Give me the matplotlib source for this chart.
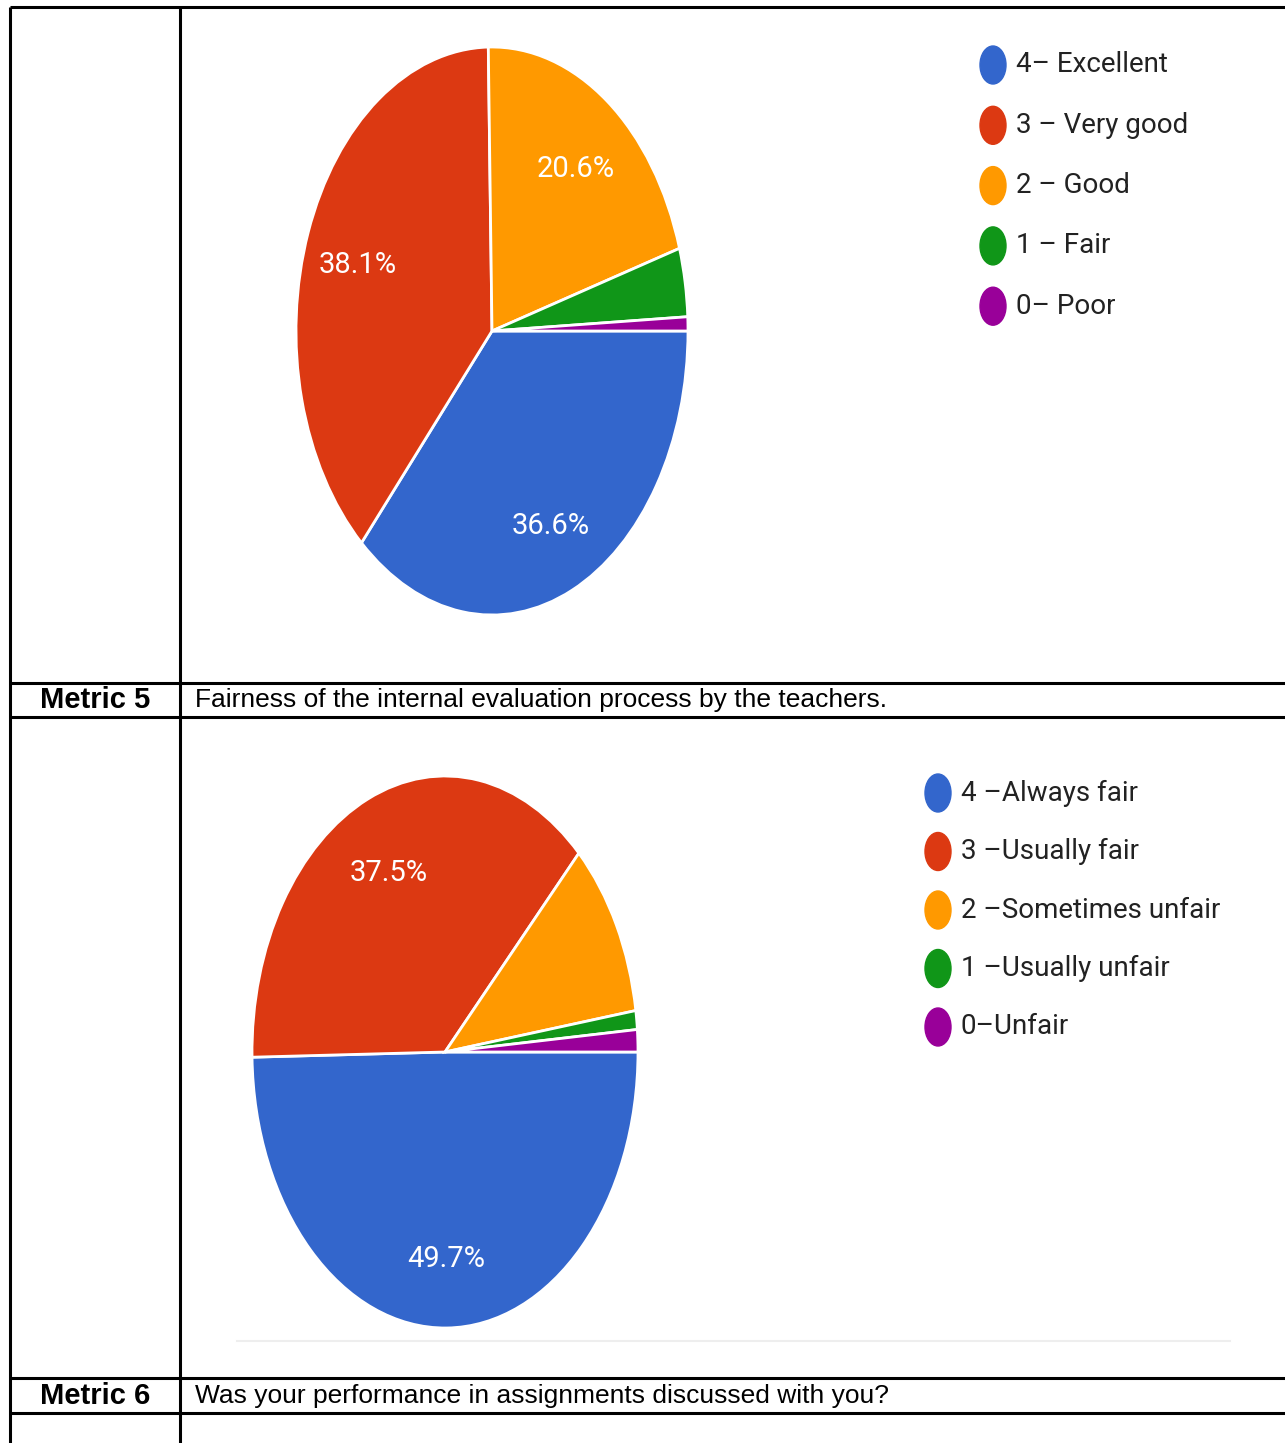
import matplotlib
matplotlib.use('Agg')
import matplotlib.pyplot as plt
from matplotlib.patches import Ellipse

W, H = 1285, 1443

colors = ['#3366CC', '#DC3912', '#FF9900', '#109618', '#990099']

# chart 1 (metric 4 answers)
labels1 = ['4\u2013 Excellent', '3 \u2013 Very good', '2 \u2013 Good', '1 \u2013 Fair', '0\u2013 Poor']
values1 = [36.6, 38.1, 20.6, 3.9, 0.8]

# chart 2 (metric 5 answers)
labels2 = ['4 \u2013Always fair', '3 \u2013Usually fair', '2 \u2013Sometimes unfair',
           '1 \u2013Usually unfair', '0\u2013Unfair']
values2 = [49.7, 37.5, 10.4, 1.1, 1.3]

metric_rows = [('Metric 5', 'Fairness of the internal evaluation process by the teachers.'),
               ('Metric 6', 'Was your performance in assignments discussed with you?')]

narrow = ['Roboto', 'DejaVu Sans']
table_font = ['Liberation Sans', 'DejaVu Sans']

fig = plt.figure(figsize=(W / 100, H / 100), dpi=100)
base = fig.add_axes([0, 0, 1, 1])
base.set_xlim(0, W)
base.set_ylim(H, 0)
base.axis('off')

# table grid
lw = 2.2
base.plot([10, 10], [7, H], color='black', lw=lw, solid_capstyle='butt')
base.plot([180, 180], [7, H], color='black', lw=lw, solid_capstyle='butt')
for y in [7, 683, 717, 1378, 1413]:
    base.plot([10, W], [y, y], color='black', lw=lw, solid_capstyle='butt')

# faint baseline from chart export
base.plot([237, 1230], [1341, 1341], color='#eeeeee', lw=1.5)

for (name, desc), y in zip(metric_rows, [700, 1396]):
    base.text(95, y, name, ha='center', va='center', fontsize=21, fontweight='bold',
              family=table_font)
    base.text(195, y, desc, ha='left', va='center', fontsize=19, family=table_font)


def draw_pie(cx, cy, rx, ry, values):
    ax = fig.add_axes([(cx - rx) / W, 1 - (cy + ry) / H, 2 * rx / W, 2 * ry / H])
    wedges, _, autotexts = ax.pie(
        values, colors=colors, startangle=0, counterclock=False,
        autopct=lambda p: '%.1f%%' % p if p > 15 else '', pctdistance=0.73,
        wedgeprops=dict(edgecolor='white', linewidth=2),
        textprops=dict(color='white', fontsize=21, family=narrow))
    for t in autotexts:
        x, y = t.get_position()
        t.set_position((x, y - 0.02))
    ax.set_aspect('auto')
    ax.set_xlim(-1.0, 1.0)
    ax.set_ylim(-1.0, 1.0)
    ax.axis('off')


def draw_legend(x, y0, step, labels):
    for i, (lab, c) in enumerate(zip(labels, colors)):
        y = y0 + i * step
        base.add_patch(Ellipse((x, y), 26, 38, color=c))
        base.text(x + 23, y, lab, ha='left', va='center', fontsize=20,
                  family=narrow, color='#222222')


draw_pie(492, 331, 196, 284, values1)
draw_legend(993, 65, 60.3, labels1)

draw_pie(445, 1052, 193, 276, values2)
draw_legend(938, 793, 58.5, labels2)

fig.savefig('out.png', dpi=100)
